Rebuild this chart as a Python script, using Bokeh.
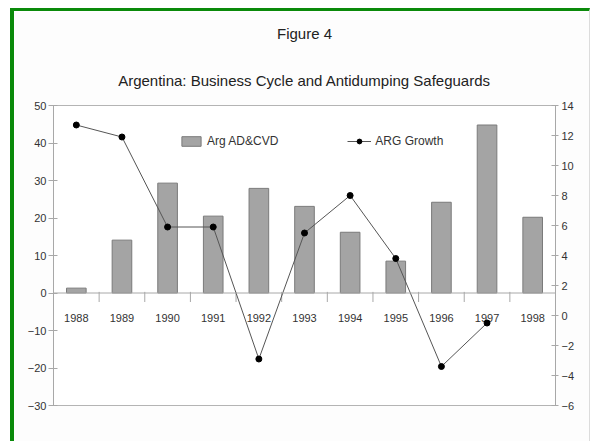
from bokeh.plotting import figure
from bokeh.layouts import column
from bokeh.models import (Range1d, LinearAxis, SingleIntervalTicker, Span, Legend,
                          LegendItem, Title, ColumnDataSource)
from bokeh.transform import dodge
from bokeh.core.properties import value
from bokeh.embed import file_html
from bokeh.resources import INLINE

years = ["1988", "1989", "1990", "1991", "1992", "1993", "1994", "1995", "1996", "1997", "1998"]
ad_cvd = [1.3, 14.1, 29.3, 20.5, 27.9, 23.1, 16.2, 8.5, 24.2, 44.8, 20.2]
growth = [12.7, 11.9, 5.9, 5.9, -2.9, 5.5, 8.0, 3.8, -3.4, -0.5, None]
left_range = (-30, 50)
right_range = (-6, 14)

FONT = "Liberation Sans"
GRID = "#a8a8a8"
TXT = "#333333"
GREEN = "#0a8a0a"

p = figure(x_range=years, y_range=Range1d(*left_range), width=575, height=430,
           output_backend="svg", toolbar_location=None,
           min_border_left=39, min_border_right=34, min_border_top=94, min_border_bottom=36,
           title="Figure 4")
p.extra_y_ranges = {"right": Range1d(*right_range)}

p.title.align = "center"
p.title.text_font = FONT
p.title.text_font_size = "15px"
p.title.text_font_style = "normal"
p.title.text_color = "#222222"
p.title.standoff = 21
sub_title = Title(text="Argentina: Business Cycle and Antidumping Safeguards", align="center",
                  text_font=FONT, text_font_size="15px", text_font_style="normal",
                  text_color="#222222", standoff=34)
p.add_layout(sub_title, "above")

p.xgrid.visible = False
p.ygrid.visible = False
p.xaxis.visible = False
p.outline_line_color = "#b4b4b4"
p.background_fill_color = "white"
p.border_fill_color = "#fdfdfd"

ya = p.yaxis[0]
ya.ticker = SingleIntervalTicker(interval=10)
ya.axis_line_color = GRID
ya.major_tick_line_color = GRID
ya.major_tick_in = 4
ya.major_tick_out = 5
ya.minor_tick_line_color = None
ya.major_label_text_font = FONT
ya.major_label_text_font_size = "11px"
ya.major_label_text_color = TXT
ya.major_label_standoff = 2

ra = LinearAxis(y_range_name="right", ticker=SingleIntervalTicker(interval=2))
ra.axis_line_color = GRID
ra.major_tick_line_color = GRID
ra.major_tick_in = 4
ra.major_tick_out = 3
ra.minor_tick_line_color = None
ra.major_label_text_font = FONT
ra.major_label_text_font_size = "11px"
ra.major_label_text_color = TXT
ra.major_label_standoff = 2
p.add_layout(ra, "right")

src = ColumnDataSource(dict(x=years, ad=ad_cvd, g=growth))

bars = p.vbar(x="x", top="ad", bottom=0, width=0.43, source=src,
              fill_color="#a4a4a4", line_color="#7a7a7a", line_width=1)

# category axis along zero
p.add_layout(Span(location=0, dimension="width", line_color=GRID, line_width=1))
bsrc = ColumnDataSource(dict(x=years[:-1], y0=[0.3] * (len(years) - 1), y1=[-2.4] * (len(years) - 1)))
p.segment(x0=dodge("x", 0.5, range=p.x_range), x1=dodge("x", 0.5, range=p.x_range),
          y0="y0", y1="y1", source=bsrc, line_color=GRID, line_width=1)
lsrc = ColumnDataSource(dict(x=years, y=[-6.7] * len(years)))
p.text(x="x", y="y", text="x", source=lsrc, text_align="center", text_baseline="middle",
       text_font=value(FONT), text_font_size="11px", text_color=TXT)

gsrc = ColumnDataSource(dict(x=years[:-1], g=growth[:-1]))
ln = p.line(x="x", y="g", source=gsrc, y_range_name="right", line_color="#555555", line_width=1)
pts = p.scatter(x="x", y="g", source=gsrc, y_range_name="right", size=6,
                fill_color="black", line_color="black")

legend = Legend(items=[LegendItem(label="Arg AD&CVD", renderers=[bars]),
                       LegendItem(label="ARG Growth", renderers=[ln, pts])],
                orientation="horizontal", location=(126, 257),
                glyph_width=24, glyph_height=12, label_height=12, label_standoff=4,
                spacing=69, padding=0, margin=0, border_line_color=None,
                background_fill_alpha=0, label_text_font=FONT, label_text_font_size="12px",
                label_text_color=TXT)
p.add_layout(legend, "center")

page = column(p, styles={"margin-left": "10px", "margin-top": "8px",
                         "border-left": f"4px solid {GREEN}", "border-top": f"3px solid {GREEN}",
                         "border-right": "1px solid #dcdcdc"})

open("out.html", "w").write(file_html(page, INLINE))
